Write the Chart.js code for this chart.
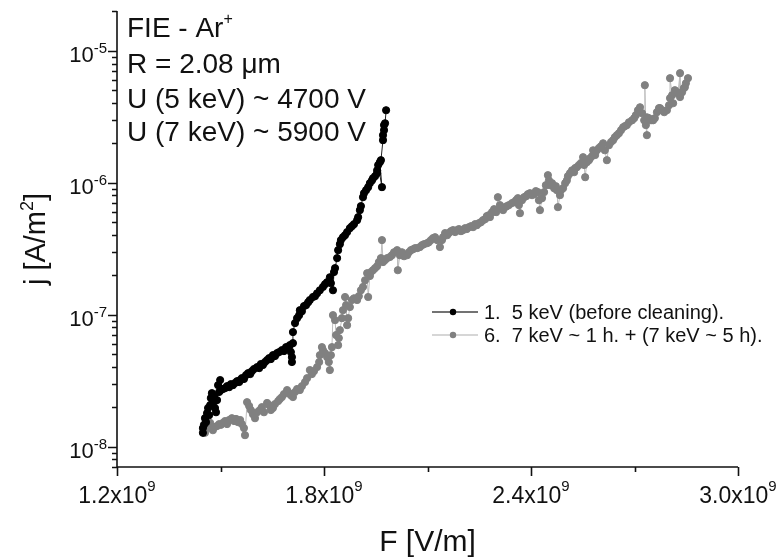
<!DOCTYPE html>
<html>
<head>
<meta charset="utf-8">
<script src="https://cdn.jsdelivr.net/npm/chart.js@4.4.1/dist/chart.umd.min.js"></script>
<style>
html, body { margin: 0; padding: 0; background: #fff; }
</style>
</head>
<body>
<canvas id="chart" width="778" height="557"></canvas>
<script>
// field F in 10^9 V/m, current density j in A/m^2
const before = [
  [1.449,1.27e-8],[1.449,1.38e-8],[1.452,1.46e-8],[1.455,1.64e-8],[1.458,1.53e-8],[1.461,1.79e-8],[1.464,1.96e-8],[1.467,1.73e-8],
  [1.470,2.06e-8],[1.472,2.33e-8],[1.475,2.54e-8],[1.478,2.17e-8],[1.481,2.41e-8],[1.484,1.96e-8],[1.487,1.82e-8],[1.490,2.25e-8],
  [1.493,2.92e-8],[1.496,2.59e-8],[1.499,3.19e-8],[1.501,2.68e-8],[1.507,2.73e-8],[1.513,2.77e-8],[1.519,2.87e-8],[1.525,2.82e-8],
  [1.530,2.97e-8],[1.536,2.92e-8],[1.542,3.03e-8],[1.548,3.13e-8],[1.554,3.08e-8],[1.557,3.19e-8],[1.562,3.30e-8],[1.568,3.25e-8],
  [1.574,3.48e-8],[1.580,3.60e-8],[1.586,3.54e-8],[1.591,3.73e-8],[1.597,3.87e-8],[1.606,4.00e-8],[1.612,3.93e-8],[1.617,4.22e-8],
  [1.623,4.15e-8],[1.629,4.37e-8],[1.635,4.52e-8],[1.641,4.68e-8],[1.646,4.60e-8],[1.652,4.93e-8],[1.658,4.85e-8],[1.664,5.11e-8],
  [1.670,5.20e-8],[1.678,5.38e-8],[1.684,5.29e-8],[1.690,5.67e-8],[1.696,5.58e-8],[1.701,5.87e-8],[1.704,5.20e-8],[1.707,4.76e-8],
  [1.707,4.37e-8],[1.710,6.08e-8],[1.710,7.37e-8],[1.716,8.62e-8],[1.722,9.40e-8],[1.728,9.91e-8],[1.730,1.08e-7],[1.736,1.06e-7],
  [1.742,1.16e-7],[1.748,1.18e-7],[1.754,1.24e-7],[1.759,1.29e-7],[1.768,1.36e-7],[1.774,1.38e-7],[1.780,1.45e-7],[1.788,1.53e-7],
  [1.797,1.62e-7],[1.803,1.70e-7],[1.809,1.76e-7],[1.817,1.92e-7],[1.820,1.73e-7],[1.826,1.53e-7],[1.829,2.10e-7],[1.832,2.25e-7],
  [1.838,2.68e-7],[1.841,3.08e-7],[1.846,3.42e-7],[1.849,3.67e-7],[1.855,3.86e-7],[1.861,4.00e-7],[1.867,4.22e-7],[1.875,4.52e-7],
  [1.881,4.68e-7],[1.887,4.85e-7],[1.896,5.20e-7],[1.899,5.48e-7],[1.904,6.19e-7],[1.907,6.64e-7],[1.913,7.76e-7],[1.916,8.32e-7],
  [1.922,8.77e-7],[1.928,9.25e-7],[1.933,9.91e-7],[1.939,1.04e-6],[1.942,1.08e-6],[1.948,1.12e-6],[1.954,1.18e-6],[1.954,1.24e-6],
  [1.957,1.36e-6],[1.968,9.25e-7],[1.962,1.43e-6],[1.965,1.48e-6],[1.971,2.10e-6],[1.971,2.29e-6],[1.974,2.50e-6],[1.974,2.73e-6],
  [1.977,2.82e-6],[1.980,3.54e-6]
];

const after = [
  [1.455,1.27e-8],[1.461,1.38e-8],[1.464,1.46e-8],[1.470,1.51e-8],[1.475,1.38e-8],[1.478,1.33e-8],[1.484,1.41e-8],[1.490,1.43e-8],
  [1.496,1.48e-8],[1.501,1.46e-8],[1.507,1.51e-8],[1.513,1.56e-8],[1.519,1.48e-8],[1.525,1.59e-8],[1.533,1.64e-8],[1.539,1.56e-8],
  [1.545,1.62e-8],[1.551,1.53e-8],[1.557,1.59e-8],[1.562,1.48e-8],[1.568,1.38e-8],[1.571,1.22e-8],[1.577,2.17e-8],[1.583,2.03e-8],
  [1.588,1.89e-8],[1.594,1.76e-8],[1.600,1.64e-8],[1.606,1.82e-8],[1.614,1.89e-8],[1.620,1.99e-8],[1.626,1.82e-8],[1.635,2.14e-8],
  [1.641,2.06e-8],[1.646,1.89e-8],[1.652,1.96e-8],[1.658,2.10e-8],[1.667,2.21e-8],[1.672,2.29e-8],[1.678,2.37e-8],[1.684,2.50e-8],
  [1.693,2.68e-8],[1.699,2.54e-8],[1.704,2.45e-8],[1.710,2.37e-8],[1.716,2.59e-8],[1.722,2.73e-8],[1.730,2.68e-8],[1.736,2.87e-8],
  [1.745,3.08e-8],[1.751,3.30e-8],[1.759,3.80e-8],[1.765,3.54e-8],[1.771,3.73e-8],[1.780,4.00e-8],[1.786,4.37e-8],[1.788,4.93e-8],
  [1.794,5.67e-8],[1.797,5.38e-8],[1.803,5.11e-8],[1.809,4.76e-8],[1.814,4.37e-8],[1.817,3.80e-8],[1.820,4.93e-8],[1.823,5.67e-8],
  [1.826,9.91e-8],[1.832,9.08e-8],[1.835,7.00e-8],[1.841,5.87e-8],[1.843,6.64e-8],[1.846,7.63e-8],[1.852,9.40e-8],[1.855,1.08e-7],
  [1.861,1.36e-7],[1.864,1.18e-7],[1.867,8.32e-8],[1.870,9.40e-8],[1.875,1.14e-7],[1.881,1.29e-7],[1.887,1.33e-7],[1.896,1.29e-7],
  [1.901,1.38e-7],[1.907,1.53e-7],[1.913,1.62e-7],[1.919,1.82e-7],[1.925,2.06e-7],[1.928,1.36e-7],[1.933,1.96e-7],[1.936,2.10e-7],
  [1.942,2.17e-7],[1.948,2.25e-7],[1.954,2.33e-7],[1.959,2.50e-7],[1.965,2.68e-7],[1.968,3.67e-7],[1.971,2.50e-7],[1.977,2.59e-7],
  [1.983,2.68e-7],[1.991,2.73e-7],[1.997,2.82e-7],[2.003,2.97e-7],[2.012,3.08e-7],[2.014,2.17e-7],[2.020,2.82e-7],[2.026,2.97e-7],
  [2.032,2.77e-7],[2.041,2.82e-7],[2.046,2.97e-7],[2.052,3.08e-7],[2.058,3.13e-7],[2.064,3.19e-7],[2.070,3.19e-7],[2.078,3.25e-7],
  [2.084,3.36e-7],[2.090,3.42e-7],[2.099,3.48e-7],[2.104,3.54e-7],[2.110,3.67e-7],[2.116,3.80e-7],[2.122,3.86e-7],[2.128,3.67e-7],
  [2.136,3.25e-7],[2.142,3.67e-7],[2.145,3.86e-7],[2.151,4.15e-7],[2.157,4.00e-7],[2.162,4.15e-7],[2.168,4.29e-7],[2.174,4.37e-7],
  [2.180,4.22e-7],[2.186,4.37e-7],[2.191,4.45e-7],[2.197,4.29e-7],[2.203,4.37e-7],[2.209,4.52e-7],[2.214,4.45e-7],[2.220,4.60e-7],
  [2.226,4.68e-7],[2.232,4.60e-7],[2.238,4.85e-7],[2.243,4.76e-7],[2.249,4.93e-7],[2.255,5.02e-7],[2.261,5.20e-7],[2.267,5.29e-7],
  [2.272,5.58e-7],[2.278,5.67e-7],[2.281,5.48e-7],[2.287,5.98e-7],[2.293,6.30e-7],[2.299,5.98e-7],[2.304,7.76e-7],[2.310,6.76e-7],
  [2.313,6.41e-7],[2.319,6.19e-7],[2.325,6.52e-7],[2.330,6.64e-7],[2.336,6.76e-7],[2.345,7.00e-7],[2.351,7.12e-7],[2.357,7.37e-7],
  [2.362,7.63e-7],[2.365,6.76e-7],[2.368,5.87e-7],[2.374,7.37e-7],[2.380,7.76e-7],[2.386,7.90e-7],[2.391,8.18e-7],[2.397,8.32e-7],
  [2.403,8.04e-7],[2.409,8.18e-7],[2.414,8.63e-7],[2.420,8.48e-7],[2.423,7.37e-7],[2.426,6.19e-7],[2.432,7.63e-7],[2.438,8.48e-7],
  [2.443,9.57e-7],[2.449,1.14e-6],[2.452,1.04e-6],[2.455,9.57e-7],[2.461,9.91e-7],[2.467,9.08e-7],[2.472,9.40e-7],[2.475,8.77e-7],
  [2.478,6.52e-7],[2.484,8.04e-7],[2.487,8.77e-7],[2.493,9.08e-7],[2.499,9.91e-7],[2.504,1.04e-6],[2.507,1.12e-6],[2.513,1.18e-6],
  [2.519,1.24e-6],[2.525,1.20e-6],[2.528,1.29e-6],[2.533,1.31e-6],[2.539,1.36e-6],[2.545,1.41e-6],[2.551,1.56e-6],[2.554,1.36e-6],
  [2.557,1.10e-6],[2.562,1.43e-6],[2.568,1.48e-6],[2.571,1.53e-6],[2.577,1.59e-6],[2.580,1.76e-6],[2.586,1.62e-6],[2.591,1.76e-6],
  [2.597,1.83e-6],[2.603,1.89e-6],[2.609,1.99e-6],[2.614,1.76e-6],[2.620,1.48e-6],[2.626,1.92e-6],[2.632,2.03e-6],[2.638,2.10e-6],
  [2.643,2.21e-6],[2.649,2.29e-6],[2.655,2.37e-6],[2.661,2.50e-6],[2.667,2.63e-6],[2.672,2.68e-6],[2.678,2.73e-6],[2.684,2.87e-6],
  [2.693,2.97e-6],[2.699,3.08e-6],[2.704,3.25e-6],[2.710,3.54e-6],[2.716,3.73e-6],[2.722,3.36e-6],[2.728,2.97e-6],[2.730,5.48e-6],
  [2.733,2.73e-6],[2.736,2.29e-6],[2.736,3.13e-6],[2.742,3.08e-6],[2.748,2.97e-6],[2.754,2.97e-6],[2.759,3.08e-6],[2.765,3.42e-6],
  [2.771,3.67e-6],[2.774,3.67e-6],[2.780,3.54e-6],[2.786,3.42e-6],[2.794,3.54e-6],[2.800,3.86e-6],[2.803,4.37e-6],[2.803,6.19e-6],
  [2.809,4.60e-6],[2.812,4.00e-6],[2.817,5.02e-6],[2.823,4.85e-6],[2.826,4.76e-6],[2.832,6.76e-6],[2.832,4.45e-6],[2.838,4.85e-6],
  [2.843,5.20e-6],[2.846,5.29e-6],[2.849,5.67e-6],[2.855,6.19e-6]
];

const seriesLabels = ['1.  5 keV (before cleaning).', '6.  7 keV ~ 1 h. + (7 keV ~ 5 h).'];
const xMajorTicks = [1.2e9, 1.8e9, 2.4e9, 3.0e9];
const xMinorTicks = [1.5e9, 2.1e9, 2.7e9];
const yDecades = [-8, -7, -6, -5];
const noteLines = ['FIE - Ar', 'R = 2.08 \u03bcm', 'U (5 keV) ~ 4700 V', 'U (7 keV) ~ 5900 V'];

const FONT = "'Liberation Sans', Arial, sans-serif";

// text with optional superscript pieces
function drawParts(ctx, parts, x, y, align) {
  let w = 0;
  parts.forEach(p => { ctx.font = p.font; w += ctx.measureText(p.t).width; });
  let cx = align === 'center' ? x - w / 2 : (align === 'right' ? x - w : x);
  ctx.textAlign = 'left';
  ctx.textBaseline = 'alphabetic';
  parts.forEach(p => {
    ctx.font = p.font;
    ctx.fillText(p.t, cx, y + (p.dy || 0));
    cx += ctx.measureText(p.t).width;
  });
}

const decor = {
  id: 'decor',
  afterDraw(chart) {
    const ctx = chart.ctx;
    const xs = chart.scales.x, ys = chart.scales.y;
    const a = chart.chartArea;
    ctx.save();
    ctx.strokeStyle = '#111';
    ctx.fillStyle = '#111';
    ctx.lineWidth = 1.6;

    // axis lines
    ctx.beginPath();
    ctx.moveTo(a.left, a.top);
    ctx.lineTo(a.left, a.bottom);
    ctx.lineTo(a.right, a.bottom);
    ctx.stroke();

    // y ticks
    ctx.beginPath();
    for (let d = -9; d <= -5; d++) {
      for (let m = 1; m <= 9; m++) {
        const v = m * Math.pow(10, d);
        if (v < ys.min * 0.999 || v > ys.max * 1.001) continue;
        const py = Math.round(ys.getPixelForValue(v)) + 0.5;
        const len = m === 1 ? 9 : 5;
        ctx.moveTo(a.left, py);
        ctx.lineTo(a.left - len, py);
      }
    }
    // x ticks
    xMajorTicks.forEach(v => {
      const px = Math.round(xs.getPixelForValue(v)) + 0.5;
      ctx.moveTo(px, a.bottom); ctx.lineTo(px, a.bottom + 9);
    });
    xMinorTicks.forEach(v => {
      const px = Math.round(xs.getPixelForValue(v)) + 0.5;
      ctx.moveTo(px, a.bottom); ctx.lineTo(px, a.bottom + 5);
    });
    ctx.stroke();

    // y tick labels
    yDecades.forEach(d => {
      const py = ys.getPixelForValue(Math.pow(10, d));
      drawParts(ctx, [
        { t: '10', font: '22px ' + FONT },
        { t: String(d), font: '15px ' + FONT, dy: -9 }
      ], a.left - 10, py + 11, 'right');
    });

    // x tick labels
    xMajorTicks.forEach(v => {
      const px = xs.getPixelForValue(v);
      drawParts(ctx, [
        { t: (v / 1e9).toFixed(1) + 'x10', font: '23px ' + FONT },
        { t: '9', font: '15px ' + FONT, dy: -12 }
      ], px, 503, 'center');
    });

    // axis titles
    drawParts(ctx, [{ t: 'F [V/m]', font: '30px ' + FONT }], (a.left + a.right) / 2, 551, 'center');
    ctx.save();
    ctx.translate(45, (a.top + a.bottom) / 2);
    ctx.rotate(-Math.PI / 2);
    drawParts(ctx, [
      { t: 'j [A/m', font: '29px ' + FONT },
      { t: '2', font: '18px ' + FONT, dy: -12 },
      { t: ']', font: '29px ' + FONT }
    ], 0, 0, 'center');
    ctx.restore();

    // notes
    const noteBase = [37, 73, 108, 141];
    noteLines.forEach((t, i) => {
      const parts = [{ t: t, font: '28px ' + FONT }];
      if (i === 0) parts.push({ t: '+', font: '16px ' + FONT, dy: -13 });
      drawParts(ctx, parts, 127, noteBase[i], 'left');
    });

    // legend
    const rows = [312, 335];
    chart.data.datasets.forEach((ds, i) => {
      const y = rows[i];
      ctx.strokeStyle = i === 0 ? '#444' : '#c8c8c8';
      ctx.lineWidth = 1.5;
      ctx.beginPath();
      ctx.moveTo(432, y); ctx.lineTo(478, y);
      ctx.stroke();
      ctx.fillStyle = ds.pointBackgroundColor;
      ctx.beginPath();
      ctx.arc(453, y, 3.2, 0, Math.PI * 2);
      ctx.fill();
      ctx.fillStyle = '#111';
      drawParts(ctx, [{ t: seriesLabels[i], font: '20px ' + FONT }], 484, y + 7, 'left');
    });

    ctx.restore();
  }
};

new Chart(document.getElementById('chart').getContext('2d'), {
  type: 'line',
  data: {
    datasets: [
      {
        label: seriesLabels[0],
        data: before.map(p => ({ x: p[0] * 1e9, y: p[1] })),
        borderColor: '#222',
        borderWidth: 1,
        pointBackgroundColor: '#000',
        pointBorderColor: '#000',
        pointBorderWidth: 1,
        pointRadius: 3.6
      },
      {
        label: seriesLabels[1],
        data: after.map(p => ({ x: p[0] * 1e9, y: p[1] })),
        borderColor: '#bdbdbd',
        borderWidth: 1,
        pointBackgroundColor: '#808080',
        pointBorderColor: '#808080',
        pointBorderWidth: 1,
        pointRadius: 3.6
      }
    ]
  },
  options: {
    responsive: false,
    animation: false,
    devicePixelRatio: 1,
    layout: { padding: { left: 117, top: 11, right: 40, bottom: 90 } },
    scales: {
      x: { type: 'linear', min: 1.2e9, max: 3.0e9, display: false },
      y: { type: 'logarithmic', min: 7e-9, max: 2e-5, display: false }
    },
    plugins: { legend: { display: false }, tooltip: { enabled: false } }
  },
  plugins: [decor]
});
</script>
</body>
</html>
